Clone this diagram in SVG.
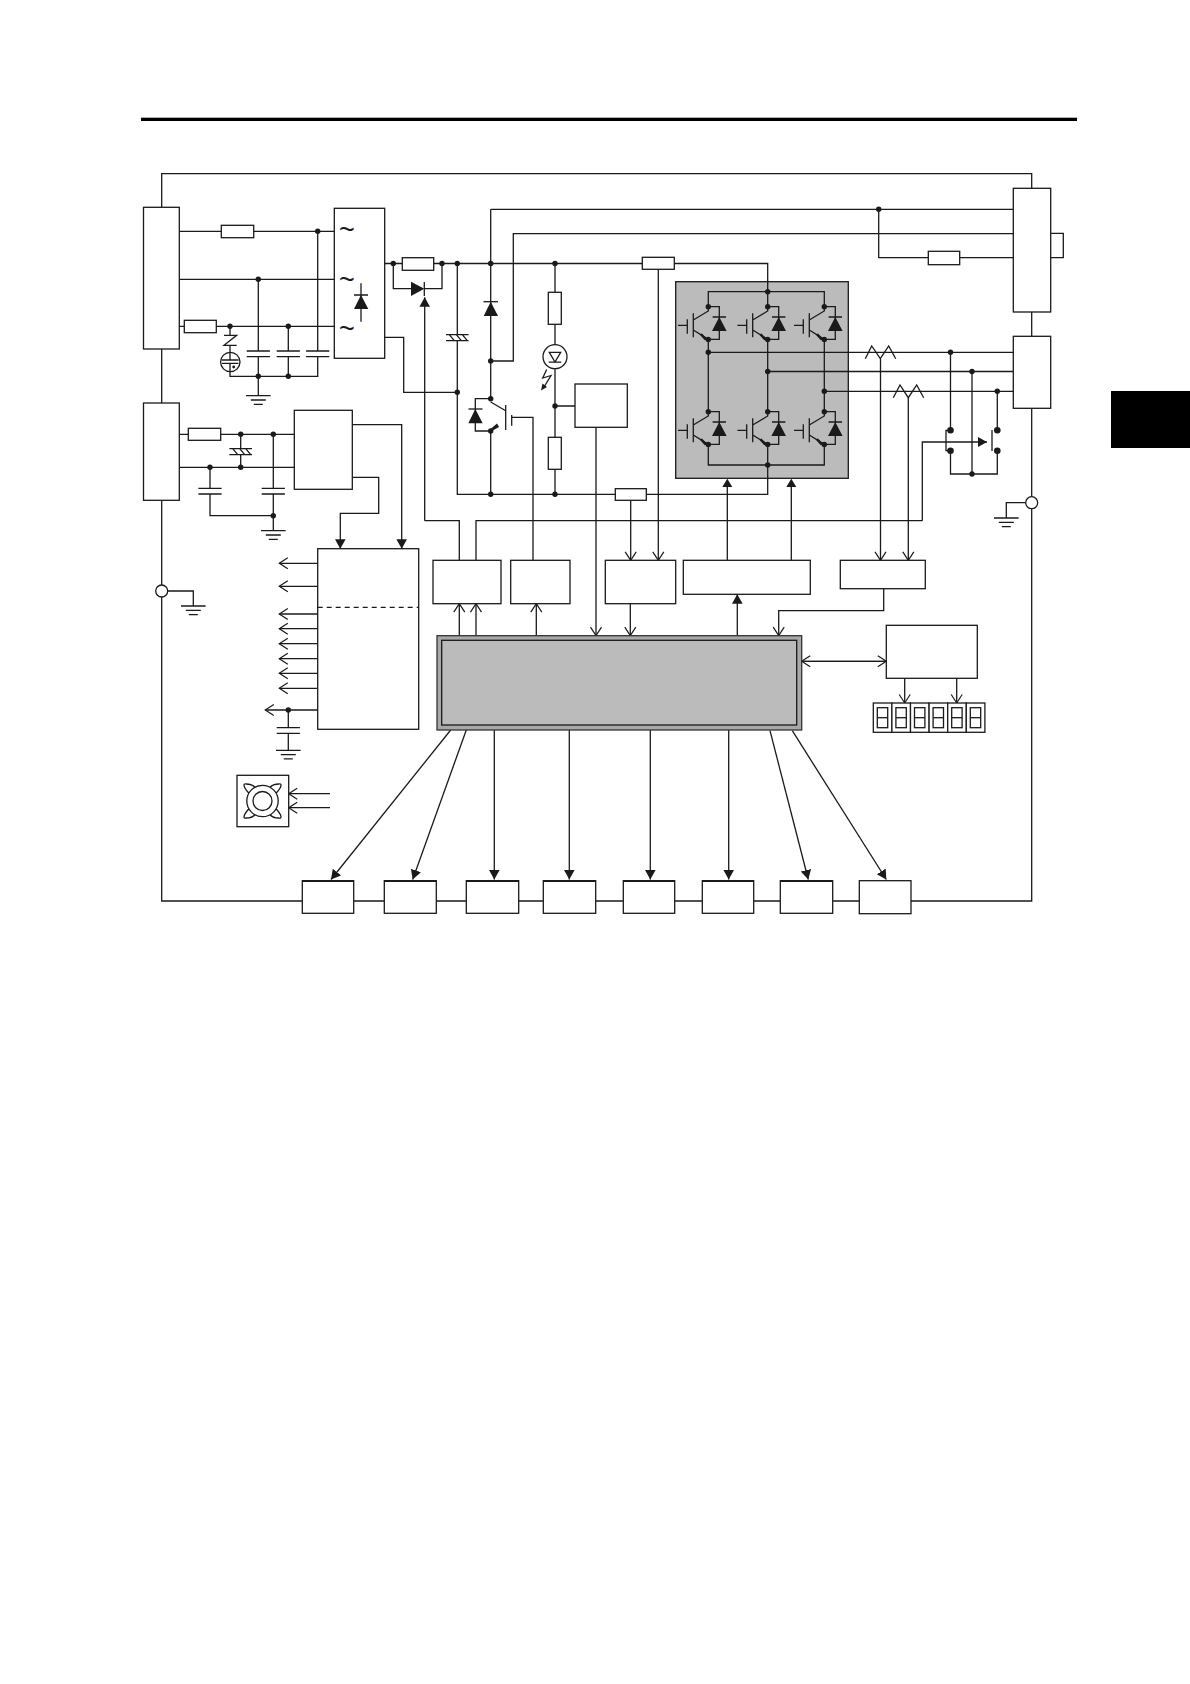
<svg xmlns="http://www.w3.org/2000/svg" xmlns:xlink="http://www.w3.org/1999/xlink" width="1190" height="1684" viewBox="0 0 1190 1684">
<style>
.b{fill:#fff;stroke:#1a1a1a;stroke-width:1.3}
.l{fill:none;stroke:#1a1a1a;stroke-width:1.3}
.f{fill:#1a1a1a;stroke:none}
.t{font-family:"Liberation Sans",Arial,sans-serif;font-size:27px;fill:#1a1a1a;text-anchor:middle}
.af{marker-end:url(#af)}
.ao{marker-end:url(#ao)}
.top{fill:none;stroke:#1a1a1a;stroke-width:2.2}
</style>
<defs>
<marker id="af" markerUnits="userSpaceOnUse" markerWidth="12" markerHeight="12" refX="9.5" refY="6" orient="auto"><path d="M0,0.7L9.5,6L0,11.3z" fill="#1a1a1a"/></marker>
<marker id="ao" markerUnits="userSpaceOnUse" markerWidth="11" markerHeight="13" refX="9.5" refY="6.5" orient="auto"><path d="M1,1L9.5,6.5L1,12" fill="none" stroke="#1a1a1a" stroke-width="1.2"/></marker>
<circle id="dot" r="2.7" fill="#1a1a1a"/>
<circle id="bigdot" r="3.3" fill="#1a1a1a"/>
<g id="gnd"><path class="l" d="M-12.3,0H12.3M-7.5,4.3H7.5M-4.5,8.6H4.5"/></g>
<g id="cap"><path class="l" d="M-11.6,0H11.6M-11.6,5.7H11.6"/></g>
<g id="hcap"><path class="l" d="M-11.3,0H11.3M-11.3,6H11.3M-8,0L-3,6M-1,0L4,6M5,0L10,6"/></g>
<g id="igbt">
<path class="l" d="M-30.3,18.7H-21M-21,12.6V27M-15,6.6V30.6M-15,13.3L0,4.3V0M-15,23.3L0,32.7M0,0H11V32.7H0M4.3,10.3H17.7"/>
<path class="f" d="M11,10.3L3.7,24.3H18.3zM-6.5,26.5L-1,32.5L-3.5,33.5L-8,28.5z"/>
<use xlink:href="#dot"/><use xlink:href="#dot" y="32.7"/>
</g>
<g id="seg"><rect class="b" width="18.6" height="29.3"/><rect class="l" x="4" y="4.7" width="10.4" height="20"/><path class="l" d="M4,14.7H14.4"/></g>
</defs>

<g id="page-rule"><rect x="141" y="117.7" width="936" height="3.3" fill="#000"/></g>
<g id="page-tab"><rect x="1111" y="391" width="79" height="57" fill="#000"/></g>

<g id="inverter">
<rect x="675.7" y="281.7" width="172.6" height="196.6" fill="#bbb" stroke="#1a1a1a" stroke-width="1.3"/>
<path class="l" d="M708.3,306.7V291.7H824.3V306.7M708.3,339.3V411.7M767.7,291.7V306.7M767.7,339.3V411.7M824.3,339.3V411.7M708.3,444V465H824.3V444M767.7,444V465"/>
<use xlink:href="#igbt" x="708.3" y="306.7"/><use xlink:href="#igbt" x="767.7" y="306.7"/><use xlink:href="#igbt" x="824.3" y="306.7"/>
<use xlink:href="#igbt" x="708.3" y="411.7"/><use xlink:href="#igbt" x="767.7" y="411.7"/><use xlink:href="#igbt" x="824.3" y="411.7"/>
<use xlink:href="#dot" x="767.7" y="291.7"/><use xlink:href="#dot" x="767.7" y="465"/>
<use xlink:href="#dot" x="708.3" y="352.3"/><use xlink:href="#dot" x="767.7" y="371.5"/><use xlink:href="#dot" x="824.3" y="391.3"/>
</g>

<g id="connectors">
<!-- chassis frame -->
<path class="l" d="M161.7,207.3V173.7H1031.7V188.3M161.7,349V403M161.7,500.3V585M161.7,597V901H302.3M353.7,901H384.3M436.3,901H466.3M518.7,901H543.3M595.7,901H623.3M674.7,901H702.3M753.7,901H780.3M832.7,901H859.3M911,901H1031.7V508.7M1031.7,496.7V408.3M1031.7,312V336.3"/>
<path class="l" d="M167.7,591H193.3V606M1025.7,502.7H1006.3V518"/>
<!-- mains input -->
<path class="l" d="M179.3,231.3H334.3M179.3,279.3H334.3M179.3,326.3H334.3M258.3,279.3V351M258.3,356.7V395.7M288.3,326.3V351M288.3,356.7V376.3M317.7,231.3V351M317.7,356.7V376.3H230V363.3M230,326.3V335.3M230,345.3V360M224,335.3H236.7L224,345.3H236.7"/>
<!-- dc link -->
<path class="l" d="M384.7,263.5H767.7V291.7M393.3,263.5V288.7H411M424.3,288.7H442V263.5M384.7,337.3H403.7V392.3H457.3M457.3,263.5V334.7M457.3,341V494.3H767.7V465"/>
<path class="l af" d="M424.7,520.7V297.3"/>
<path class="l" d="M424.7,520.7H459.3V560.3M476,560.3V520.7H922.3"/>
<path class="l af" d="M922.3,520.7V442H987"/>
<path class="l" d="M490.7,263.5V398.7H475.3V431H490.7V494.3M490.7,209.3V263.5M490.7,209.3H1013.3M490.7,361H513.3V233.7H1013.3M878.7,209.3V257.7H1013.3M505.7,410.7L490.7,402"/>
<path class="l" d="M511.7,417.3H533V560.3"/>
<path class="l" d="M555,263.5V344.7M555,368.7V494.3M555,406H575"/>
<path class="l ao" d="M596,427.3V635.7"/>
<path class="l" d="M546.7,369.5L542.7,378L551,375.5L544,387"/><path class="f" d="M541,390.5L542.5,383.5L547,387z"/>
<path class="l ao" d="M658.3,269.3V560.3"/>
<path class="l ao" d="M630.7,500.3V560.3"/>
<path class="l ao" d="M630.3,603.7V635.7"/>
<path class="l" d="M708.3,352.3H1013.3M767.7,371.5H1013.3M824.3,391.3H1013.3"/>
<!-- current sensors -->
<path class="l" d="M865.3,358.7L871.7,346L880.3,358.7L888.7,346L895.7,358.7M893.3,397.7L900,385L908.3,397.7L916.7,385L923.7,397.7"/>
<path class="l ao" d="M880.5,358.7V560.3"/>
<path class="l ao" d="M908.3,397.7V560.3"/>
<path class="l ao" d="M883.7,588.7V610.7H778.7V635.7"/>
<!-- relay -->
<path class="l" d="M950.5,352.3V430.3M950.5,450.7V474H997.3V450.7M972,371.5V474M997.3,391.3V430.3M950.5,430.3H946V450.7H950.5M992,430V451"/>
<path class="l" d="M1050.7,233.3H1063.3V257.7H1050.7"/>
<!-- gate drive -->
<path class="f" d="M722.3,487L727.3,478.8L732.3,487zM786.3,487L791.3,478.8L796.3,487z"/>
<path class="l" d="M727.3,487V560.3M791.3,487V560.3"/>
<path class="l af" d="M737.3,635.7V594.3"/>
<!-- auxiliary supply -->
<path class="l" d="M179.3,434.3H294.3M179.3,467.3H294.3M240.7,434.3V448.7M240.7,454.7V467.3M210,467.3V488.3M210,494V515.7H273.3M273.3,434.3V488.3M273.3,494V530.7"/>
<path class="l af" d="M352.3,424.7H401.7V548.7"/>
<path class="l af" d="M352.3,477.3H378.7V513.3H340.3V548.7"/>
<path class="l ao" d="M317.7,563.3H279.3"/>
<path class="l ao" d="M317.7,586.3H279.3"/>
<path class="l ao" d="M317.7,614H279.3"/>
<path class="l ao" d="M317.7,628.7H279.3"/>
<path class="l ao" d="M317.7,643.7H279.3"/>
<path class="l ao" d="M317.7,658.7H279.3"/>
<path class="l ao" d="M317.7,673.3H279.3"/>
<path class="l ao" d="M317.7,688.3H279.3"/>
<path class="l ao" d="M317.7,710H265.3"/>
<path class="l" d="M288.3,710V727.7M288.3,733.3V750.3"/>
<!-- control -->
<path class="l ao" d="M459.3,635.7V603.7"/>
<path class="l ao" d="M476,635.7V603.7"/>
<path class="l ao" d="M536.3,635.7V603.7"/>
<path class="l ao" d="M801.7,661.3H886.3"/>
<path class="l ao" d="M886.3,661.3H801.7"/>
<path class="l ao" d="M904.7,678.3V703"/>
<path class="l ao" d="M956.7,678.3V703"/>
<path class="l af" d="M450.7,730L331,879.5"/>
<path class="l af" d="M466.3,730L412.7,879.5"/>
<path class="l af" d="M494.3,730V879.5"/>
<path class="l af" d="M569.3,730V879.5"/>
<path class="l af" d="M650.3,730V879.5"/>
<path class="l af" d="M728.7,730V879.5"/>
<path class="l af" d="M770,730.7L808.3,879.5"/>
<path class="l af" d="M792.3,730.7L886.3,879.5"/>
<path class="l ao" d="M330,793.7H288.7"/>
<path class="l ao" d="M330,807.7H288.7"/>
<!-- junctions -->
<use xlink:href="#dot" x="317.7" y="231.3"/><use xlink:href="#dot" x="258.3" y="279.3"/><use xlink:href="#dot" x="230" y="326.3"/><use xlink:href="#dot" x="288.3" y="326.3"/><use xlink:href="#dot" x="258.3" y="376.3"/><use xlink:href="#dot" x="288.3" y="376.3"/>
<use xlink:href="#dot" x="393.3" y="263.5"/><use xlink:href="#dot" x="442" y="263.5"/><use xlink:href="#dot" x="457.3" y="263.5"/><use xlink:href="#dot" x="490.7" y="263.5"/><use xlink:href="#dot" x="555" y="263.5"/><use xlink:href="#dot" x="457.3" y="392.3"/><use xlink:href="#dot" x="490.7" y="361"/><use xlink:href="#dot" x="490.7" y="398.7"/><use xlink:href="#dot" x="490.7" y="431"/><use xlink:href="#dot" x="555" y="406"/><use xlink:href="#dot" x="490.7" y="494.3"/><use xlink:href="#dot" x="555" y="494.3"/>
<use xlink:href="#dot" x="240.7" y="434.3"/><use xlink:href="#dot" x="273.3" y="434.3"/><use xlink:href="#dot" x="210" y="467.3"/><use xlink:href="#dot" x="240.7" y="467.3"/><use xlink:href="#dot" x="273.3" y="515.7"/><use xlink:href="#dot" x="288.3" y="710"/>
<use xlink:href="#dot" x="878.7" y="209.3"/><use xlink:href="#dot" x="950.5" y="352.3"/><use xlink:href="#dot" x="972" y="371.5"/><use xlink:href="#dot" x="997.3" y="391.3"/><use xlink:href="#dot" x="972" y="474"/>
<use xlink:href="#bigdot" x="950.5" y="430.3"/><use xlink:href="#bigdot" x="950.5" y="450.7"/><use xlink:href="#bigdot" x="997.3" y="430.3"/><use xlink:href="#bigdot" x="997.3" y="450.7"/>
</g>

<g id="symbols">
<use xlink:href="#cap" x="258.3" y="351"/><use xlink:href="#cap" x="288.3" y="351"/><use xlink:href="#cap" x="317.7" y="351"/>
<use xlink:href="#cap" x="210" y="488.3"/><use xlink:href="#cap" x="273.3" y="488.3"/><use xlink:href="#cap" x="288.3" y="727.7"/>
<use xlink:href="#hcap" x="240.7" y="448.7"/><use xlink:href="#hcap" x="457.3" y="334.7"/>
<use xlink:href="#gnd" x="258.3" y="395.7"/><use xlink:href="#gnd" x="273.3" y="530.7"/><use xlink:href="#gnd" x="288.3" y="750.3"/><use xlink:href="#gnd" x="193.3" y="606"/><use xlink:href="#gnd" x="1006.3" y="518"/>
<circle class="l" cx="230.3" cy="362" r="9.7"/><path class="l" d="M222,360H238.5M222,363.3H238.5"/><circle cx="233.7" cy="367" r="1.4" fill="#1a1a1a"/>
<path class="f" d="M411,281.7L424.3,288.8L411,296z"/><path class="l" d="M424.3,282V296"/>
<path class="f" d="M490.7,301.7L483.7,316H498z"/><path class="l" d="M483.5,301.7H498"/>
<path class="f" d="M475.3,409L468.3,423.3H482.7z"/><path class="l" d="M468.5,409H482.5"/>
<path class="l" d="M505.7,405V430M511.7,415V425.7"/><path class="f" d="M497,423.5L499,427L491,431.5L490,429.5z"/>
<circle class="l" cx="555" cy="356.7" r="12"/><path class="l" d="M549.3,352.3H560.7L555,362zM548.7,362.2H561.3"/>
</g>

<g id="terminal-main"><rect class="b" x="143.5" y="207.3" width="35.8" height="141.7"/></g>
<g id="terminal-aux"><rect class="b" x="143.5" y="403" width="35.8" height="97.3"/></g>
<g id="terminal-dc"><rect class="b" x="1013.3" y="188.3" width="37.4" height="123.7"/></g>
<g id="terminal-out"><rect class="b" x="1013.3" y="336.3" width="37.4" height="72"/></g>
<g id="earth-left"><circle class="b" cx="161.7" cy="591" r="6"/></g>
<g id="earth-right"><circle class="b" cx="1031.7" cy="502.7" r="6"/></g>
<g id="r1"><rect class="b" x="221.3" y="225.3" width="32.4" height="12.4"/></g>
<g id="r2"><rect class="b" x="184.3" y="320.3" width="32" height="12.4"/></g>
<g id="r3"><rect class="b" x="188.3" y="428.3" width="32.4" height="12"/></g>
<g id="r4"><rect class="b" x="402.3" y="257.7" width="31.4" height="12.6"/></g>
<g id="r5"><rect class="b" x="642.3" y="257.3" width="32" height="12"/></g>
<g id="r6"><rect class="b" x="615.3" y="488.7" width="31" height="11.6"/></g>
<g id="r7"><rect class="b" x="548.3" y="292.3" width="13" height="32"/></g>
<g id="r8"><rect class="b" x="548.3" y="437.3" width="13" height="32"/></g>
<g id="r9"><rect class="b" x="928.3" y="251.3" width="31.4" height="13.4"/></g>

<g id="rectifier">
<rect class="b" x="334.3" y="208.3" width="50.4" height="150"/>
<text class="t" x="347" y="239">~</text><text class="t" x="347" y="289">~</text><text class="t" x="347" y="337.5">~</text>
<path class="l" d="M361,283.3V321.7M354,295H368"/><path class="f" d="M361,295L354,309H368.3z"/>
</g>
<g id="aux-supply"><rect class="b" x="294.3" y="410.3" width="58" height="79"/></g>
<g id="power-board"><rect class="b" x="317.7" y="548.7" width="101" height="180.6"/><path class="l" stroke-dasharray="5 4" d="M317.7,607.3H418.7"/></g>
<g id="sense-box"><rect class="b" x="575" y="384" width="52.3" height="43.3"/></g>
<g id="driver-a"><rect class="b" x="433" y="560.3" width="68" height="43.4"/></g>
<g id="driver-b"><rect class="b" x="510.7" y="560.3" width="59.3" height="43.4"/></g>
<g id="sense-c"><rect class="b" x="605.3" y="560.3" width="70.4" height="43.4"/></g>
<g id="gate-drive"><rect class="b" x="683.3" y="560.3" width="127" height="34"/></g>
<g id="current-det"><rect class="b" x="840.3" y="560.3" width="85" height="28.4"/></g>
<g id="cpu">
<rect x="437" y="635.7" width="364.7" height="94.3" fill="#a8a8a8" stroke="#333" stroke-width="1.3"/>
<rect x="441.7" y="640.3" width="355" height="84.7" fill="#bbb" stroke="#1a1a1a" stroke-width="1.3"/>
</g>
<g id="operator-ctl"><rect class="b" x="886.3" y="625.3" width="91" height="53"/></g>
<g id="display">
<use xlink:href="#seg" x="873.3" y="703"/><use xlink:href="#seg" x="891.9" y="703"/><use xlink:href="#seg" x="910.5" y="703"/><use xlink:href="#seg" x="929.1" y="703"/><use xlink:href="#seg" x="947.7" y="703"/><use xlink:href="#seg" x="966.3" y="703"/>
</g>
<g id="fan">
<rect class="b" x="237" y="775.3" width="51.7" height="51.4"/>
<path class="l" d="M249,793.3C243,787 243,783 246,784C249,784 253,785 255,787.3M276,793.3C282,787 282,783 279,784C276,784 272,785 270,787.3M249,808.7C243,815 243,819 246,818C249,818 253,817 255,814.7M276,808.7C282,815 282,819 279,818C276,818 272,817 270,814.7"/>
<circle class="l" cx="262.5" cy="801" r="15.7"/><circle class="l" cx="262.5" cy="801" r="9.5"/>
</g>
<g id="io1"><rect class="b" x="302.3" y="880.7" width="51.4" height="32.6"/><path class="top" d="M302.3,881H353.7"/></g>
<g id="io2"><rect class="b" x="384.3" y="880.7" width="52" height="32.6"/><path class="top" d="M384.3,881H436.3"/></g>
<g id="io3"><rect class="b" x="466.3" y="880.7" width="52.4" height="32.6"/><path class="top" d="M466.3,881H518.7"/></g>
<g id="io4"><rect class="b" x="543.3" y="880.7" width="52.4" height="32.6"/><path class="top" d="M543.3,881H595.7"/></g>
<g id="io5"><rect class="b" x="623.3" y="880.7" width="51.4" height="32.6"/><path class="top" d="M623.3,881H674.7"/></g>
<g id="io6"><rect class="b" x="702.3" y="880.7" width="51.4" height="32.6"/><path class="top" d="M702.3,881H753.7"/></g>
<g id="io7"><rect class="b" x="780.3" y="880.7" width="52.4" height="32.6"/><path class="top" d="M780.3,881H832.7"/></g>
<g id="io8"><rect class="b" x="859.3" y="880.7" width="51.7" height="33"/></g>
</svg>
